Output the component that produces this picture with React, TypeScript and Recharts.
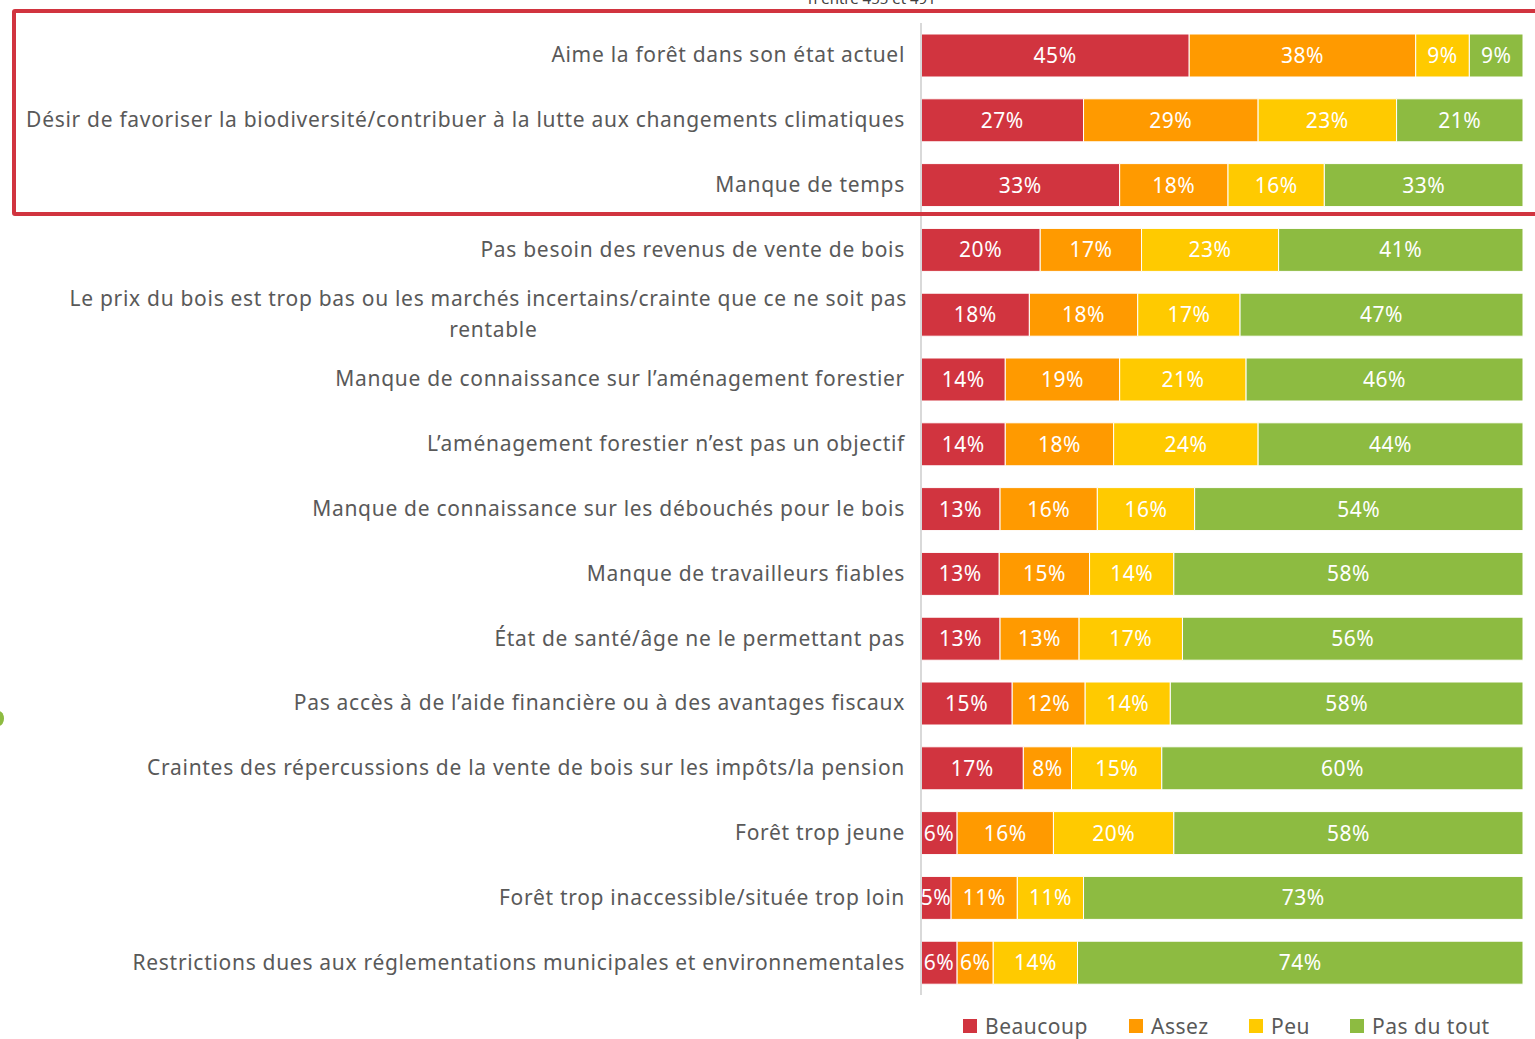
import { BarChart, Bar, XAxis, YAxis, LabelList } from "recharts";

const categories = [
  ["Aime la forêt dans son état actuel"],
  ["Désir de favoriser la biodiversité/contribuer à la lutte aux changements climatiques"],
  ["Manque de temps"],
  ["Pas besoin des revenus de vente de bois"],
  ["Le prix du bois est trop bas ou les marchés incertains/crainte que ce ne soit pas", "rentable"],
  ["Manque de connaissance sur l’aménagement forestier"],
  ["L’aménagement forestier n’est pas un objectif"],
  ["Manque de connaissance sur les débouchés pour le bois"],
  ["Manque de travailleurs fiables"],
  ["État de santé/âge ne le permettant pas"],
  ["Pas accès à de l’aide financière ou à des avantages fiscaux"],
  ["Craintes des répercussions de la vente de bois sur les impôts/la pension"],
  ["Forêt trop jeune"],
  ["Forêt trop inaccessible/située trop loin"],
  ["Restrictions dues aux réglementations municipales et environnementales"],
];

const beaucoup = [45, 27, 33, 20, 18, 14, 14, 13, 13, 13, 15, 17, 6, 5, 6];
const assez = [38, 29, 18, 17, 18, 19, 18, 16, 15, 13, 12, 8, 16, 11, 6];
const peu = [9, 23, 16, 23, 17, 21, 24, 16, 14, 17, 14, 15, 20, 11, 14];
const pasDuTout = [9, 21, 33, 41, 47, 46, 44, 54, 58, 56, 58, 60, 58, 73, 74];

const series = [
  { key: "beaucoup", name: "Beaucoup", color: "#D1343F" },
  { key: "assez", name: "Assez", color: "#FF9A00" },
  { key: "peu", name: "Peu", color: "#FFCA00" },
  { key: "pas", name: "Pas du tout", color: "#8DBB41" },
];

const data = categories.map((lines, i) => ({
  name: lines.join(" "),
  lines,
  beaucoup: beaucoup[i],
  assez: assez[i],
  peu: peu[i],
  pas: pasDuTout[i],
}));

const FONT = "'Noto Sans', sans-serif";
const TICK_FS = 21;
const TICK_LS = 0.7;

const CategoryTick = (props: any) => {
  const { x, y, payload, index } = props;
  const lines: string[] = data[index]?.lines ?? [payload.value];
  const common = {
    fontSize: TICK_FS,
    fill: "#595959",
    fontFamily: FONT,
    letterSpacing: TICK_LS,
  };
  if (lines.length === 1) {
    return (
      <text x={x - 8} y={y} dy={7} textAnchor="end" {...common}>
        {lines[0]}
      </text>
    );
  }
  const half = (lines[0].length * (TICK_FS * 0.453 + TICK_LS)) / 2;
  return (
    <g>
      <text x={x - 6} y={y - 16} dy={7} textAnchor="end" {...common}>
        {lines[0]}
      </text>
      <text x={x - 6 - half} y={y + 15} dy={7} textAnchor="middle" {...common}>
        {lines[1]}
      </text>
    </g>
  );
};

const pct = (v: any) => `${v}%`;

const App = () => {
  return (
    <div
      style={{
        position: "absolute",
        left: 0,
        top: 0,
        width: 1535,
        height: 1039,
        overflow: "hidden",
        background: "#fff",
        fontFamily: FONT,
      }}
    >
      <div
        style={{
          position: "absolute",
          left: 808,
          top: -12,
          fontSize: 15,
          color: "#404040",
          whiteSpace: "nowrap",
        }}
      >
        n entre 455 et 491
      </div>
      <BarChart
        width={1535}
        height={1039}
        data={data}
        layout="vertical"
        stackOffset="expand"
        barSize={43}
        margin={{ top: 23, right: 12, left: 0, bottom: 44 }}
      >
        <XAxis type="number" hide domain={[0, 1]} />
        <YAxis
          type="category"
          dataKey="name"
          width={921}
          axisLine={{ stroke: "#D9D9D9", strokeWidth: 2 }}
          tickLine={false}
          interval={0}
          tick={<CategoryTick />}
        />
        {series.map((s) => (
          <Bar
            key={s.key}
            dataKey={s.key}
            name={s.name}
            stackId="a"
            fill={s.color}
            stroke="#ffffff"
            strokeWidth={1}
            isAnimationActive={false}
          >
            <LabelList
              dataKey={s.key}
              position="center"
              formatter={pct}
              fill="#ffffff"
              fontSize={21}
              fontFamily={FONT}
              letterSpacing={0.5}
            />
          </Bar>
        ))}
      </BarChart>
      <div
        style={{
          position: "absolute",
          left: 12,
          top: 9,
          width: 1600,
          height: 199,
          border: "4px solid #D1343F",
          borderRadius: 3,
          pointerEvents: "none",
        }}
      />
      <div
        style={{
          position: "absolute",
          left: -6,
          top: 711,
          width: 10,
          height: 15,
          borderRadius: "50%",
          background: "#8DBB41",
        }}
      />
      <div
        style={{
          position: "absolute",
          top: 1014,
          left: 0,
          width: 1535,
          height: 25,
          fontSize: 21,
          lineHeight: "24px",
          letterSpacing: 0.5,
          color: "#595959",
        }}
      >
        {series.map((s, i) => {
          const lefts = [963, 1129, 1249, 1350];
          return (
            <div
              key={s.key}
              style={{
                position: "absolute",
                left: lefts[i],
                top: 0,
                height: 24,
                display: "flex",
                alignItems: "center",
                whiteSpace: "nowrap",
              }}
            >
              <span
                style={{
                  display: "inline-block",
                  width: 14,
                  height: 14,
                  background: s.color,
                  marginRight: 8,
                }}
              />
              {s.name}
            </div>
          );
        })}
      </div>
    </div>
  );
};

export default App;
